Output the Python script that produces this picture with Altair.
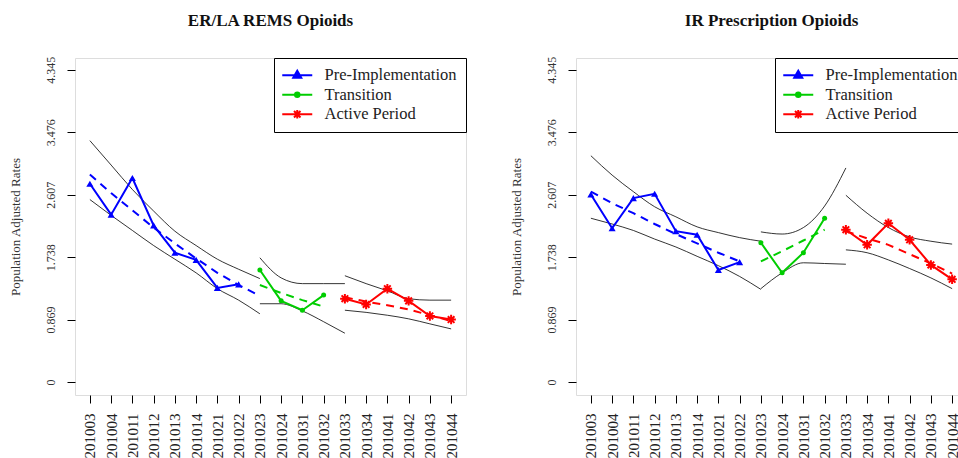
import altair as alt
import pandas as pd

labels = ["201003", "201004", "201011", "201012", "201013", "201014",
          "201021", "201022", "201023", "201024", "201031", "201032",
          "201033", "201034", "201041", "201042", "201043", "201044"]
periods = ["Pre-Implementation", "Transition", "Active Period"]
colors = ["#0000FF", "#00CD00", "#FF0000"]
y_ticks = [0, 0.869, 1.738, 2.607, 3.476, 4.345]

# ---- ER/LA REMS Opioids ----
er_pre_obs = [2.76, 2.33, 2.84, 2.18, 1.80, 1.70, 1.31, 1.36]
er_pre_fit = [2.89, 2.63, 2.39, 2.15, 1.93, 1.72, 1.52, 1.35, 1.20]
er_pre_up = [3.36, 3.02, 2.68, 2.38, 2.10, 1.90, 1.71, 1.57, 1.44]
er_pre_lo = [2.54, 2.32, 2.11, 1.90, 1.71, 1.52, 1.30, 1.14, 0.95]
er_tr_obs = [1.56, 1.13, 1.00, 1.21]
er_tr_fit = [1.35, 1.24, 1.14, 1.05]
er_tr_up = [1.73, 1.45, 1.37, 1.37, 1.37]
er_tr_lo = [1.09, 1.09, 0.99, 0.84, 0.68]
er_ac_obs = [1.16, 1.08, 1.30, 1.13, 0.92, 0.87]
er_ac_fit = [1.18, 1.12, 1.07, 1.01, 0.93, 0.85]
er_ac_up = [1.48, 1.37, 1.27, 1.16, 1.14, 1.14]
er_ac_lo = [1.00, 0.97, 0.93, 0.88, 0.81, 0.74]

# ---- IR Prescription Opioids ----
ir_pre_obs = [2.61, 2.14, 2.56, 2.62, 2.10, 2.05, 1.56, 1.67]
ir_pre_fit = [2.65, 2.49, 2.35, 2.20, 2.06, 1.93, 1.80, 1.68]
ir_pre_up = [3.15, 2.88, 2.65, 2.44, 2.30, 2.16, 2.08, 2.01, 1.96]
ir_pre_lo = [2.28, 2.20, 2.11, 1.99, 1.88, 1.75, 1.62, 1.47, 1.29]
ir_tr_obs = [1.94, 1.52, 1.80, 2.28]
ir_tr_fit = [1.68, 1.82, 1.97, 2.12]
ir_tr_up = [2.09, 2.06, 2.15, 2.45, 2.98]
ir_tr_lo = [1.30, 1.52, 1.66, 1.65, 1.64]
ir_ac_obs = [2.12, 1.91, 2.21, 1.98, 1.63, 1.43]
ir_ac_fit = [2.10, 2.00, 1.91, 1.78, 1.65, 1.51]
ir_ac_up = [2.60, 2.35, 2.15, 2.02, 1.96, 1.92]
ir_ac_lo = [1.84, 1.80, 1.70, 1.58, 1.45, 1.30]

starts = [0, 8, 12]
SERIF = "Liberation Serif"

ASTERISK = "M-1,0L1,0M0,-1L0,1M-0.7,-0.7L0.7,0.7M-0.7,0.7L0.7,-0.7"
legend_paths = [
    "M-3,0L3,0M0,-0.9L0.8,0.5L-0.8,0.5Z",
    "M-3,0L3,0M-0.45,0A0.45,0.45 0 1,1 0.45,0A0.45,0.45 0 1,1 -0.45,0Z",
    "M-3,0L3,0M0,-0.85L0,0.85M-0.65,-0.65L0.65,0.65M-0.65,0.65L0.65,-0.65",
]


def seg(vals, start):
    return pd.DataFrame({"q": labels[start:start + len(vals)], "v": vals})


X = alt.X("q:N", scale=alt.Scale(domain=labels, type="point", padding=0.7),
          axis=alt.Axis(title=None, labelAngle=-90, labelFont=SERIF, labelFontSize=15,
                        labelColor="#222", tickSize=8, tickColor="black", domain=False,
                        grid=False, labelPadding=10))
Y = alt.Y("v:Q", scale=alt.Scale(domain=[-0.18, 4.51], nice=False, zero=False),
          axis=alt.Axis(values=y_ticks, format=".4~g", labelAngle=-90, labelFont=SERIF,
                        labelFontSize=12, labelColor="#333", tickSize=8, tickColor="black",
                        domain=False, grid=False, labelPadding=10,
                        title="Population Adjusted Rates", titleFont=SERIF,
                        titleFontSize=13, titleFontWeight="normal", titleColor="#333",
                        titlePadding=22))


def panel(title, series):
    layers = []
    for k, (obs, fit, up, lo) in enumerate(series):
        s = starts[k]
        col = colors[k]
        for band in (up, lo):
            layers.append(alt.Chart(seg(band, s)).mark_line(
                color="black", strokeWidth=0.8, interpolate="monotone").encode(x=X, y=Y))
        layers.append(alt.Chart(seg(fit, s)).mark_line(
            color=col, strokeWidth=2, strokeDash=[8, 6]).encode(x=X, y=Y))
        layers.append(alt.Chart(seg(obs, s)).mark_line(
            color=col, strokeWidth=2).encode(x=X, y=Y))
        if k == 0:
            pt = alt.Chart(seg(obs, s)).mark_point(
                shape="triangle-up", filled=True, color=col, size=50, opacity=1)
        elif k == 1:
            pt = alt.Chart(seg(obs, s)).mark_point(
                shape="circle", filled=True, color=col, size=25, opacity=1)
        else:
            pt = alt.Chart(seg(obs, s)).mark_point(
                shape=ASTERISK, filled=False, color=col, size=90, strokeWidth=2, opacity=1)
        layers.append(pt.encode(x=X, y=Y))

    leg = alt.Legend(title=None, orient="top-right", offset=0, padding=9,
                     strokeColor="black", fillColor="white", symbolSize=100,
                     symbolStrokeWidth=2, symbolOffset=6, labelOffset=19,
                     labelFont=SERIF, labelFontSize=16.5, labelColor="#222",
                     rowPadding=2.5, labelLimit=300)
    legend_layer = alt.Chart(pd.DataFrame({"p": periods})).transform_filter(
        "false").mark_point(filled=True, opacity=1).encode(
        fill=alt.Fill("p:N", scale=alt.Scale(domain=periods, range=colors), legend=leg),
        stroke=alt.Stroke("p:N", scale=alt.Scale(domain=periods, range=colors), legend=leg),
        shape=alt.Shape("p:N", scale=alt.Scale(domain=periods, range=legend_paths), legend=leg),
    )
    layers.append(legend_layer)
    return alt.layer(*layers).properties(
        width=391, height=337,
        title=alt.TitleParams(title, font=SERIF, fontSize=17, fontWeight="bold",
                              color="#111", anchor="middle", offset=26))


left = panel("ER/LA REMS Opioids", [
    (er_pre_obs, er_pre_fit, er_pre_up, er_pre_lo),
    (er_tr_obs, er_tr_fit, er_tr_up, er_tr_lo),
    (er_ac_obs, er_ac_fit, er_ac_up, er_ac_lo),
])
right = panel("IR Prescription Opioids", [
    (ir_pre_obs, ir_pre_fit, ir_pre_up, ir_pre_lo),
    (ir_tr_obs, ir_tr_fit, ir_tr_up, ir_tr_lo),
    (ir_ac_obs, ir_ac_fit, ir_ac_up, ir_ac_lo),
])

chart = alt.hconcat(left, right, spacing=42).resolve_scale(
    fill="independent", stroke="independent", shape="independent"
).resolve_legend(
    fill="independent", stroke="independent", shape="independent"
).properties(
    padding={"left": 8, "top": 11, "right": -10, "bottom": 0}
).configure_view(stroke="black", strokeWidth=1).configure_legend(
    labelFont=SERIF, labelFontSize=16.5
).configure_axis(labelFont=SERIF, titleFont=SERIF).configure(background="white")

chart.save("out.html", embed_options={"renderer": "svg", "actions": False})
